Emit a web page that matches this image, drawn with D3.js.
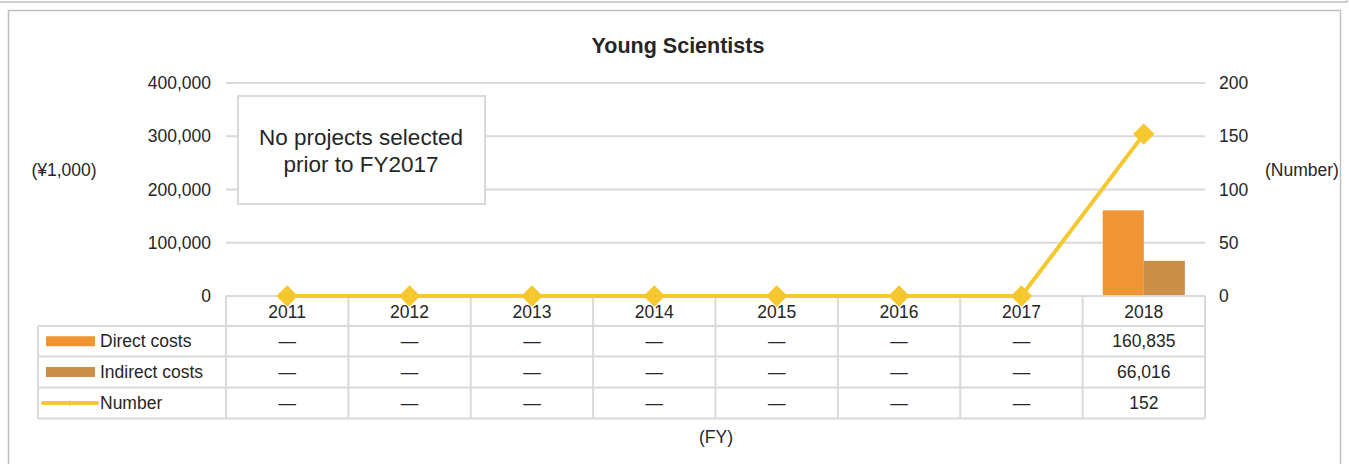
<!DOCTYPE html>
<html>
<head>
<meta charset="utf-8">
<script src="https://cdn.jsdelivr.net/npm/d3@7"></script>
<style>
  body { margin: 0; background: #fff; font-family: "Liberation Sans", Arial, sans-serif; }
  text { fill: #262626; }
</style>
</head>
<body>
<div id="chart"></div>
<script>
// data
var years = ["2011", "2012", "2013", "2014", "2015", "2016", "2017", "2018"];
var directCosts = [null, null, null, null, null, null, null, 160835];
var indirectCosts = [null, null, null, null, null, null, null, 66016];
var numbers = [0, 0, 0, 0, 0, 0, 0, 152];
var numberLabels = ["—", "—", "—", "—", "—", "—", "—", "152"];
var leftTicks = [0, 100000, 200000, 300000, 400000];
var rightTicks = [0, 50, 100, 150, 200];

var width = 1349, height = 464;
var plot = { left: 226, right: 1205, top: 83, bottom: 296 };
var rowH = [30, 30.5, 31, 31]; // header, direct, indirect, number
var legendLeft = 38;
var fs = "17.5px";

var colDirect = "#f09535", colIndirect = "#cc8f47", colLine = "#f5c830", gridCol = "#d9d9d9";

var svg = d3.select("#chart").append("svg")
  .attr("width", width)
  .attr("height", height);

// outer frames
svg.append("rect").attr("x", -5).attr("y", -10).attr("width", 1352).attr("height", 12)
  .attr("fill", "none").attr("stroke", "#bfbfbf").attr("stroke-width", 1.5);
svg.append("rect").attr("x", 8.5).attr("y", 10.5).attr("width", 1332).attr("height", 470)
  .attr("fill", "none").attr("stroke", "#bfbfbf").attr("stroke-width", 1.5);

var x = d3.scaleBand().domain(years).range([plot.left, plot.right]);
var xInner = d3.scaleBand().domain(["direct", "indirect"]).range([0, x.bandwidth()]).paddingOuter(0.49);
var yL = d3.scaleLinear().domain([0, 400000]).range([plot.bottom, plot.top]);
var yR = d3.scaleLinear().domain([0, 200]).range([plot.bottom, plot.top]);

// gridlines
svg.append("g").selectAll("line").data(leftTicks.slice(1)).enter().append("line")
  .attr("x1", plot.left).attr("x2", plot.right)
  .attr("y1", function(d){ return yL(d); }).attr("y2", function(d){ return yL(d); })
  .attr("stroke", gridCol).attr("stroke-width", 2);

// left axis labels
svg.append("g").selectAll("text").data(leftTicks).enter().append("text")
  .attr("x", 211).attr("y", function(d){ return yL(d); }).attr("dy", "0.35em")
  .attr("text-anchor", "end").style("font-size", fs)
  .text(function(d){ return d3.format(",")(d); });

// right axis labels
svg.append("g").selectAll("text").data(rightTicks).enter().append("text")
  .attr("x", 1219).attr("y", function(d){ return yR(d); }).attr("dy", "0.35em")
  .attr("text-anchor", "start").style("font-size", fs)
  .text(function(d){ return d; });

// title and axis titles
svg.append("text").attr("x", 678).attr("y", 45).attr("dy", "0.35em").attr("text-anchor", "middle")
  .style("font-size", "21.5px").style("font-weight", "bold").text("Young Scientists");
svg.append("text").attr("x", 64).attr("y", 170).attr("dy", "0.35em").attr("text-anchor", "middle")
  .style("font-size", fs).text("(¥1,000)");
svg.append("text").attr("x", 1302).attr("y", 170).attr("dy", "0.35em").attr("text-anchor", "middle")
  .style("font-size", fs).text("(Number)");
svg.append("text").attr("x", 716).attr("y", 437).attr("dy", "0.35em").attr("text-anchor", "middle")
  .style("font-size", fs).text("(FY)");

// annotation box
svg.append("rect").attr("x", 238).attr("y", 96).attr("width", 247).attr("height", 108)
  .attr("fill", "#fff").attr("stroke", gridCol).attr("stroke-width", 2);
svg.append("text").attr("x", 361).attr("y", 137).attr("dy", "0.35em").attr("text-anchor", "middle")
  .style("font-size", "22.5px").text("No projects selected");
svg.append("text").attr("x", 361).attr("y", 164).attr("dy", "0.35em").attr("text-anchor", "middle")
  .style("font-size", "22.5px").text("prior to FY2017");

// bars
var barData = [];
years.forEach(function(yr, i){
  if (directCosts[i] != null) barData.push({ year: yr, key: "direct", value: directCosts[i] });
  if (indirectCosts[i] != null) barData.push({ year: yr, key: "indirect", value: indirectCosts[i] });
});
svg.append("g").selectAll("rect").data(barData).enter().append("rect")
  .attr("x", function(d){ return x(d.year) + xInner(d.key); })
  .attr("width", xInner.bandwidth())
  .attr("y", function(d){ return yL(d.value); })
  .attr("height", function(d){ return plot.bottom - yL(d.value); })
  .attr("fill", function(d){ return d.key == "direct" ? colDirect : colIndirect; });

// table grid
var rowY = [plot.bottom];
rowH.forEach(function(h){ rowY.push(rowY[rowY.length - 1] + h); });
var tbl = svg.append("g").attr("stroke", gridCol).attr("stroke-width", 2);
rowY.forEach(function(yy, i){
  tbl.append("line").attr("x1", i == 0 ? plot.left : legendLeft).attr("x2", plot.right)
    .attr("y1", yy).attr("y2", yy);
});
years.concat(["end"]).forEach(function(yr, i){
  var xx = i < years.length ? x(yr) : plot.right;
  tbl.append("line").attr("x1", xx).attr("x2", xx).attr("y1", rowY[0]).attr("y2", rowY[4]);
});
tbl.append("line").attr("x1", legendLeft).attr("x2", legendLeft).attr("y1", rowY[1]).attr("y2", rowY[4]);

// header (years)
svg.append("g").selectAll("text").data(years).enter().append("text")
  .attr("x", function(d){ return x(d) + x.bandwidth() / 2; })
  .attr("y", rowY[0] + 16).attr("dy", "0.35em").attr("text-anchor", "middle")
  .style("font-size", fs).text(function(d){ return d; });

// table rows
var fmt = d3.format(",");
var rows = [
  directCosts.map(function(v){ return v == null ? "—" : fmt(v); }),
  indirectCosts.map(function(v){ return v == null ? "—" : fmt(v); }),
  numberLabels
];
rows.forEach(function(row, r){
  svg.append("g").selectAll("text").data(row).enter().append("text")
    .attr("x", function(d, i){ return x(years[i]) + x.bandwidth() / 2; })
    .attr("y", (rowY[r + 1] + rowY[r + 2]) / 2).attr("dy", "0.35em")
    .attr("text-anchor", "middle").style("font-size", fs)
    .text(function(d){ return d; });
});

// legend cells
var legendNames = ["Direct costs", "Indirect costs", "Number"];
legendNames.forEach(function(name, r){
  var cy = (rowY[r + 1] + rowY[r + 2]) / 2;
  if (r < 2) {
    svg.append("rect").attr("x", 46).attr("y", cy - 5).attr("width", 49).attr("height", 10)
      .attr("fill", r == 0 ? colDirect : colIndirect);
  } else {
    svg.append("line").attr("x1", 43).attr("x2", 97).attr("y1", cy).attr("y2", cy)
      .attr("stroke", colLine).attr("stroke-width", 4).attr("stroke-linecap", "round");
    svg.append("path").attr("d", d3.symbol().type(d3.symbolDiamond).size(12)())
      .attr("transform", "translate(70," + cy + ")").attr("fill", colLine);
  }
  svg.append("text").attr("x", 100).attr("y", cy).attr("dy", "0.35em")
    .style("font-size", fs).text(name);
});

// line series
var line = d3.line()
  .x(function(d, i){ return x(years[i]) + x.bandwidth() / 2; })
  .y(function(d){ return yR(d); });
svg.append("path").datum(numbers).attr("d", line)
  .attr("fill", "none").attr("stroke", colLine).attr("stroke-width", 4);
svg.append("g").selectAll("path").data(numbers).enter().append("path")
  .attr("d", d3.symbol().type(d3.symbolSquare).size(230)())
  .attr("transform", function(d, i){
    return "translate(" + (x(years[i]) + x.bandwidth() / 2) + "," + yR(d) + ") rotate(45)";
  })
  .attr("fill", colLine);
</script>
</body>
</html>
